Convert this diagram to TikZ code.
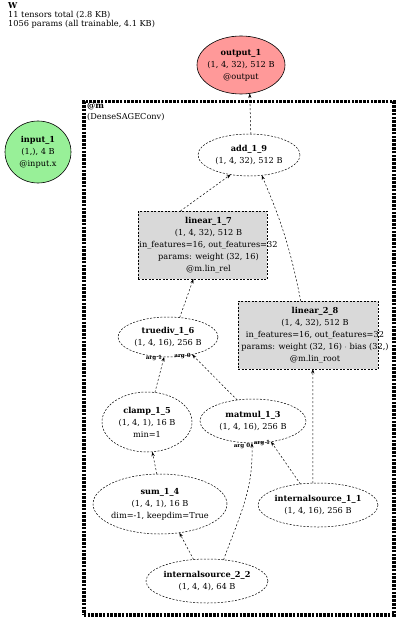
\documentclass[tikz,border=0pt]{standalone}
\usepackage{fontspec}
\setmainfont{DejaVu Serif}
\usetikzlibrary{shapes.geometric,arrows.meta}
\definecolor{outred}{RGB}{255,153,153}
\definecolor{ingreen}{RGB}{152,240,152}
\definecolor{boxgray}{RGB}{217,217,217}
\newcommand{\nf}{\fontsize{8.2}{12}\selectfont}
\begin{document}
\begin{tikzpicture}[x=1pt,y=-1pt,
  txt/.style={align=center,font=\nf,inner sep=0pt},
  ell/.style={ellipse,draw,dash pattern=on 2pt off 1.5pt,line width=0.5pt,inner sep=0pt,outer sep=0pt},
  solidell/.style={ellipse,draw,line width=0.6pt,inner sep=0pt,outer sep=0pt},
  pbox/.style={rectangle,draw,dash pattern=on 2pt off 1.5pt,line width=0.5pt,fill=boxgray,inner sep=0pt,outer sep=0pt},
  edge/.style={draw,dash pattern=on 2pt off 2pt,line width=0.5pt,-{Stealth[length=4.5pt,width=3.2pt]}},
  elbl/.style={font=\fontsize{5.6}{5.6}\selectfont\bfseries,inner sep=0.5pt},
  cluster/.style={rectangle,draw,line width=3.5pt,dash pattern=on 2.6pt off 1.2pt,inner sep=0pt}]
\useasboundingbox (0,0) rectangle (400,623);

\node[anchor=north west,align=left,font=\fontsize{8.2}{9.2}\selectfont,inner sep=0pt] (title) at (8,2)
  {\textbf{W}\\11 tensors total (2.8 KB)\\1056 params (all trainable, 4.1 KB)};

\node[cluster,minimum width=310pt,minimum height=513pt,anchor=north west] (m) at (82,100) {};
\node[anchor=north west,align=left,font=\fontsize{8.2}{11}\selectfont,inner sep=0pt] (mlbl) at (87,103)
  {\textbf{@m}\\(DenseSAGEConv)};

\node[solidell,fill=outred,minimum width=88pt,minimum height=58pt,
  label={[txt]center:{\textbf{output\_1}\\(1, 4, 32), 512 B\\@output}}] (output_1) at (241,65) {};
\node[solidell,fill=ingreen,minimum width=66pt,minimum height=62pt,
  label={[txt]center:{\textbf{input\_1}\\(1,), 4 B\\@input.x}}] (input_1) at (38,152) {};

\node[ell,fill=white,minimum width=102pt,minimum height=42pt,
  label={[txt]center:{\textbf{add\_1\_9}\\(1, 4, 32), 512 B}}] (add_1_9) at (249,155) {};

\node[pbox,minimum width=129pt,minimum height=68pt,
  label={[txt,xshift=6pt]center:{\textbf{linear\_1\_7}\\(1, 4, 32), 512 B\\in\_features=16, out\_features=32\\params: weight (32, 16)\\@m.lin\_rel}}] (linear_1_7) at (202.5,245) {};
\node[pbox,minimum width=140pt,minimum height=68pt,
  label={[txt,xshift=7pt]center:{\textbf{linear\_2\_8}\\(1, 4, 32), 512 B\\in\_features=16, out\_features=32\\params: weight (32, 16) $\cdot$ bias (32,)\\@m.lin\_root}}] (linear_2_8) at (308,335) {};

\node[ell,minimum width=100pt,minimum height=40pt,
  label={[txt]center:{\textbf{truediv\_1\_6}\\(1, 4, 16), 256 B}}] (truediv_1_6) at (168,337) {};
\node[ell,minimum width=90pt,minimum height=60pt,
  label={[txt]center:{\textbf{clamp\_1\_5}\\(1, 4, 1), 16 B\\min=1}}] (clamp_1_5) at (147,422) {};
\node[ell,minimum width=106pt,minimum height=44pt,
  label={[txt]center:{\textbf{matmul\_1\_3}\\(1, 4, 16), 256 B}}] (matmul_1_3) at (253,421) {};
\node[ell,minimum width=134pt,minimum height=60pt,
  label={[txt]center:{\textbf{sum\_1\_4}\\(1, 4, 1), 16 B\\dim=-1, keepdim=True}}] (sum_1_4) at (160,504) {};
\node[ell,minimum width=120pt,minimum height=44pt,
  label={[txt]center:{\textbf{internalsource\_1\_1}\\(1, 4, 16), 256 B}}] (internalsource_1_1) at (318,505) {};
\node[ell,minimum width=122pt,minimum height=44pt,
  label={[txt]center:{\textbf{internalsource\_2\_2}\\(1, 4, 4), 64 B}}] (internalsource_2_2) at (207,581) {};

\draw[edge] (add_1_9.85) -- (output_1.-73);
\draw[edge] (linear_1_7.123) -- (add_1_9.-133);
\draw[edge] (linear_2_8.102) to[bend right=6] (add_1_9.-58);
\draw[edge] (truediv_1_6.59) -- (linear_1_7.-105);
\draw[edge] (internalsource_1_1.103) -- (linear_2_8.-82);
\draw[edge] (clamp_1_5.75) -- node[elbl,pos=0.97,left=1pt]{arg 1} (truediv_1_6.-101);
\draw[edge] (matmul_1_3.127) -- node[elbl,pos=0.97,left=2pt]{arg 0} (truediv_1_6.-36);
\draw[edge] (sum_1_4.96) -- (clamp_1_5.-80);
\draw[edge] (internalsource_2_2.122) -- (sum_1_4.-56);
\draw[edge] (internalsource_2_2.52) to[out=70,in=-88] node[elbl,pos=0.98,left=1pt]{arg 0} (matmul_1_3.-93);
\draw[edge] (internalsource_1_1.130) -- node[elbl,pos=0.97,left=1pt]{arg 1} (matmul_1_3.-49);
\end{tikzpicture}
\end{document}
